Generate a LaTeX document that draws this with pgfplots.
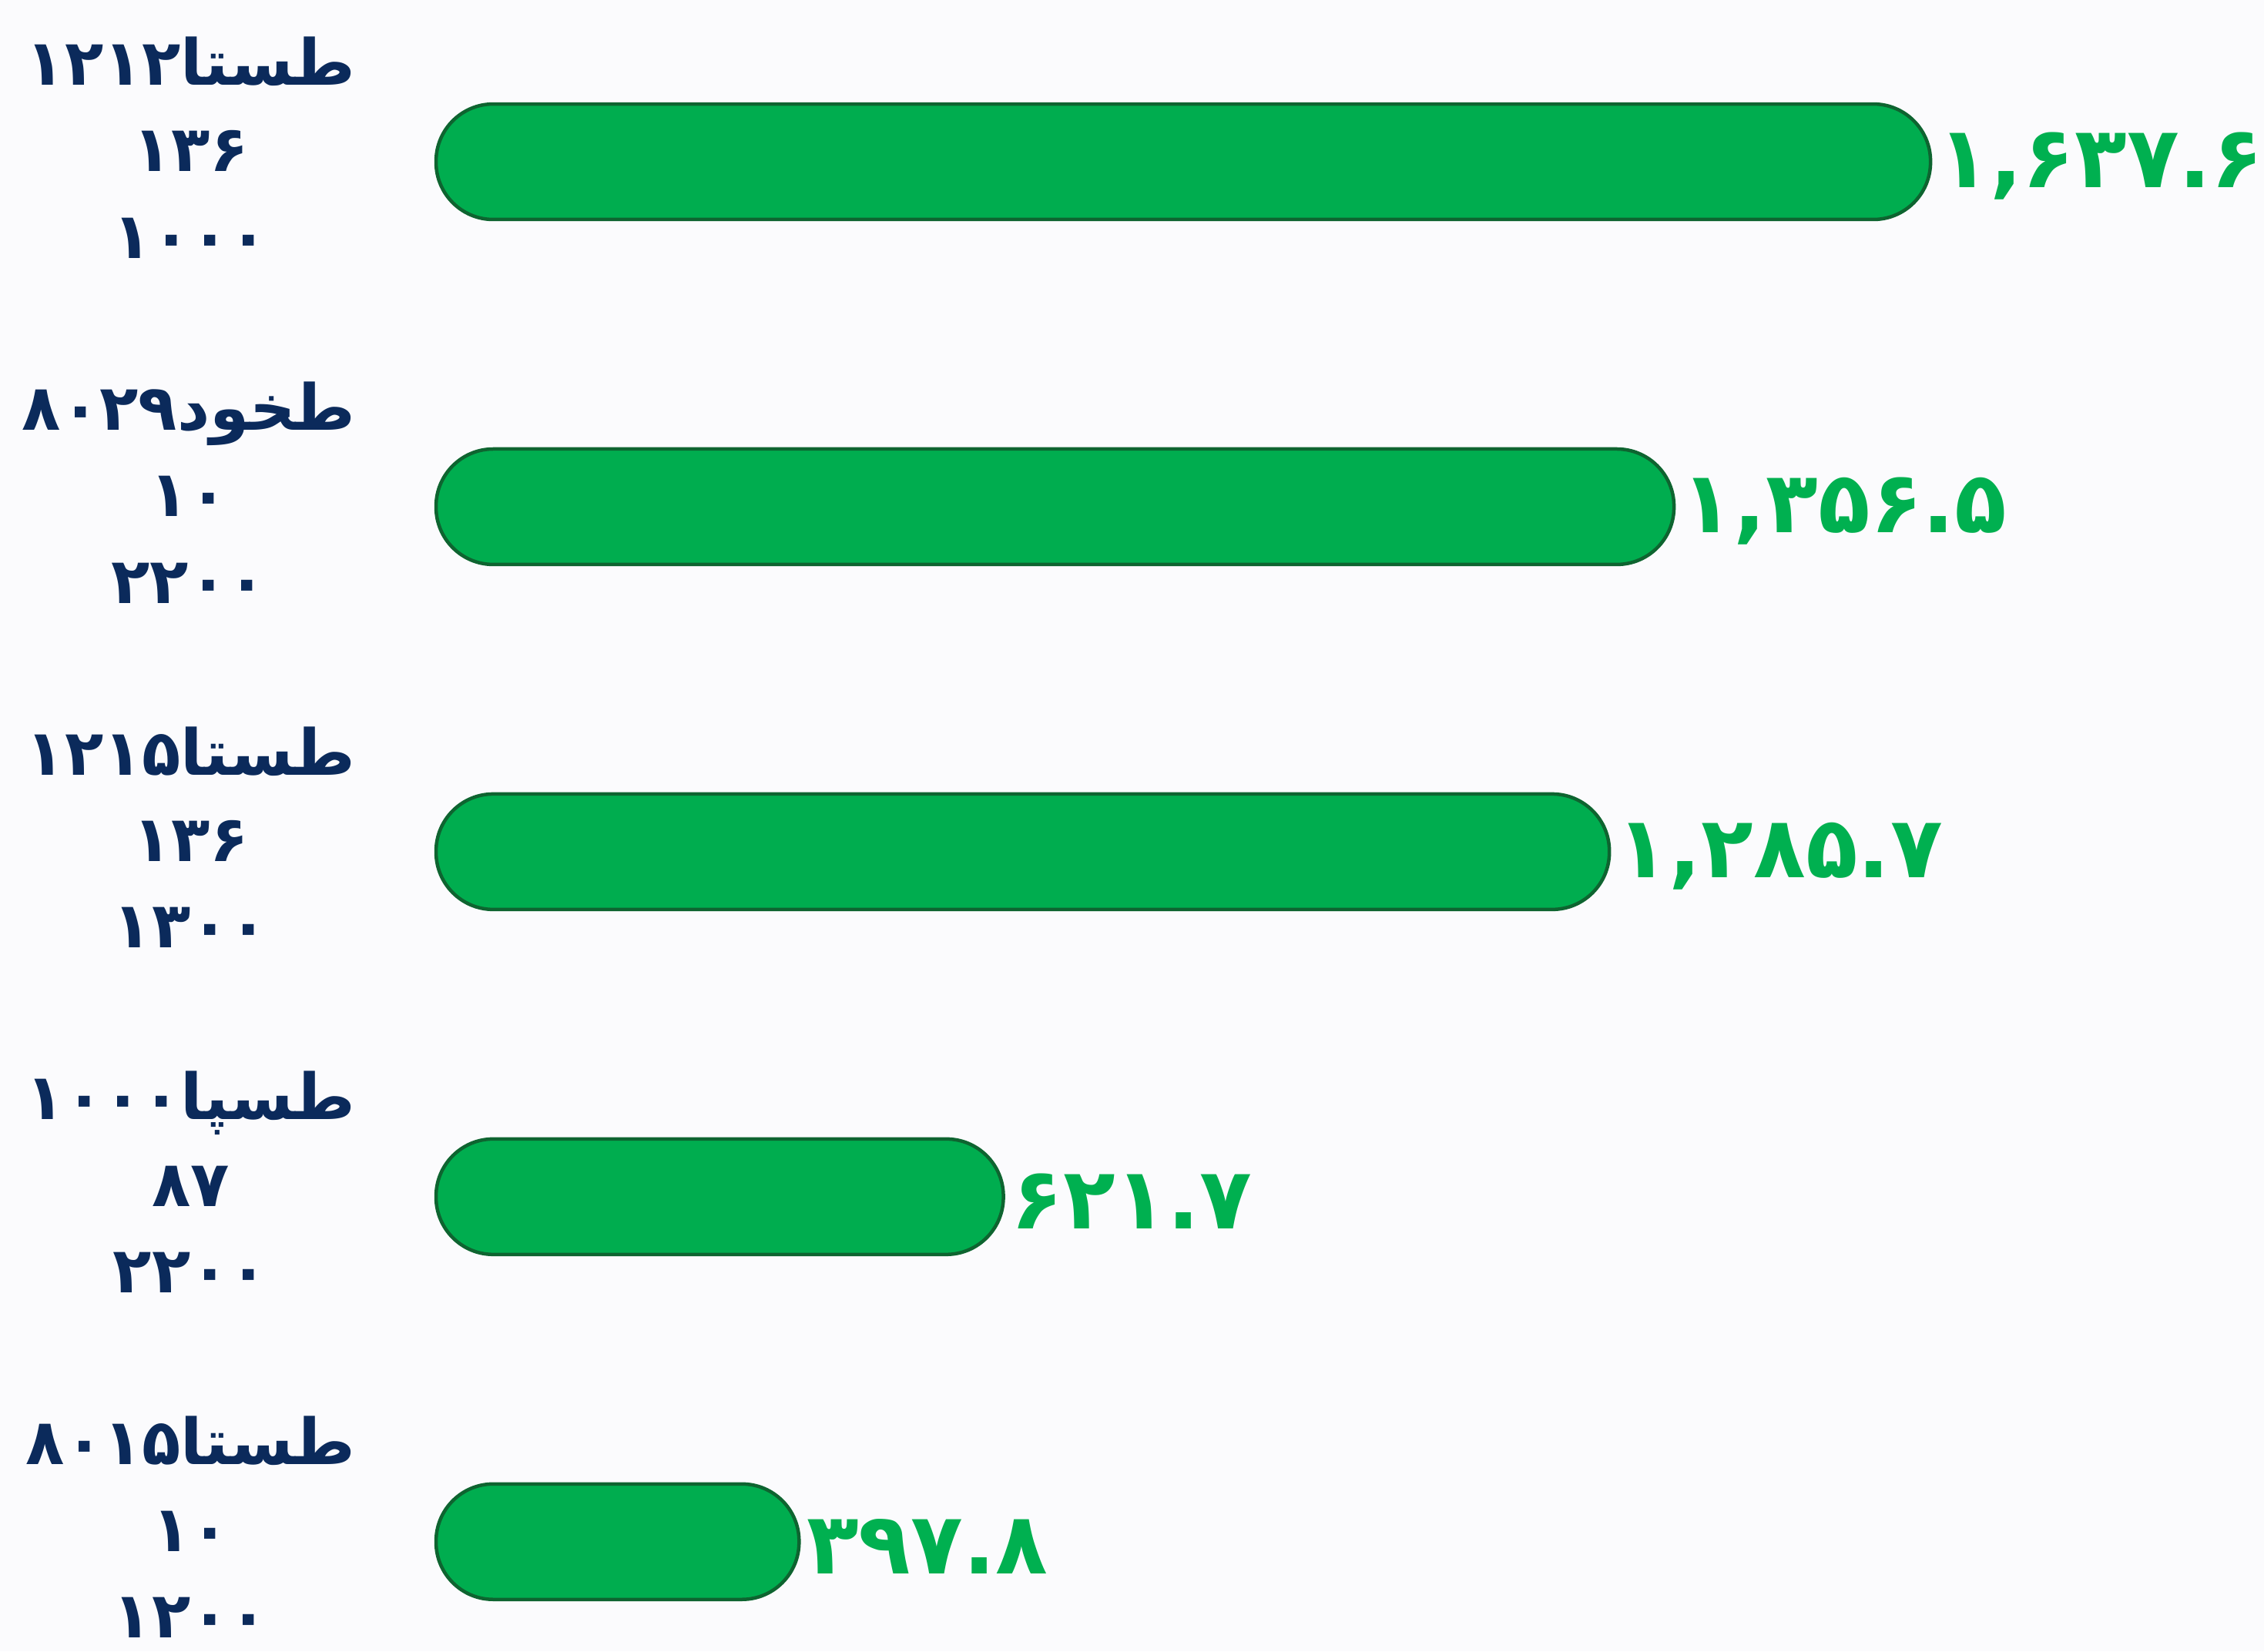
\documentclass[border=0pt]{standalone}
\usepackage{pgfplots}
\pgfplotsset{compat=1.18}
\usepackage{pgfplotstable}
\usepackage{fontspec}
\TeXXeTstate=1
\newfontfamily\arabicfont[Script=Arabic]{DejaVu Sans}
\definecolor{bg}{RGB}{251,251,253}
\definecolor{navy}{RGB}{11,42,91}
\definecolor{barg}{RGB}{0,173,79}
\definecolor{bared}{RGB}{14,100,48}
\definecolor{valg}{RGB}{0,176,80}

\pgfplotstableread{
y val lab
4 1637.6 ۱,۶۳۷.۶
3 1356.5 ۱,۳۵۶.۵
2 1285.7 ۱,۲۸۵.۷
1 621.7 ۶۲۱.۷
0 397.8 ۳۹۷.۸
}\datatable

\newcommand\RL[1]{\beginR #1\endR}

\begin{document}
\begin{tikzpicture}
\path[use as bounding box, fill=bg] (0,0) rectangle (392pt,286pt);
\begin{axis}[
 at={(75.5pt,0pt)}, anchor=south west,
 scale only axis, width=316.5pt, height=286pt,
 xbar, bar width=20pt,
 xmin=0, xmax=2003, ymin=-0.318, ymax=4.469,
 axis lines*=left, axis line style={draw=none},
 xtick=\empty, ytick={0,1,2,3,4},
 tick style={draw=none},
 yticklabels={
  {\RL{طستا\beginL ۸۰۱۵\endL}\\۱۰\\۱۲۰۰},
  {\RL{طسپا\beginL ۱۰۰۰\endL}\\۸۷\\۲۲۰۰},
  {\RL{طستا\beginL ۱۲۱۵\endL}\\۱۳۶\\۱۳۰۰},
  {\RL{طخود\beginL ۸۰۲۹\endL}\\۱۰\\۲۲۰۰},
  {\RL{طستا\beginL ۱۲۱۲\endL}\\۱۳۶\\۱۰۰۰}
 },
 yticklabel style={align=center, font=\arabicfont\bfseries\fontsize{11}{15}\selectfont, text=navy, inner sep=0pt, xshift=-9.5pt, yshift=2.5pt},
 clip=false,
 point meta=explicit symbolic,
 nodes near coords,
 nodes near coords style={anchor=west, inner sep=0pt, xshift=1pt, yshift=-0.8pt, font=\arabicfont\bfseries\fontsize{14.8}{18}\selectfont, text=valg},
]
\addplot[fill=barg, draw=bared, line width=0.6pt, rounded corners=9.9pt] table[x=val, y=y, meta=lab] \datatable;
\end{axis}
\end{tikzpicture}
\end{document}
